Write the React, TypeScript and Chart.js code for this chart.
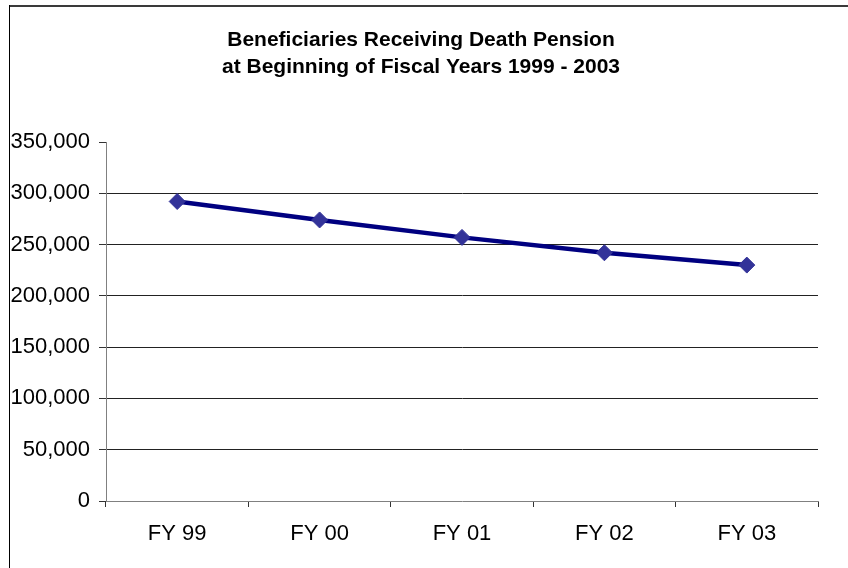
import React, { useEffect, useRef } from 'react';
import { Chart, registerables } from 'chart.js';

Chart.register(...registerables);

const categories = ['FY 99', 'FY 00', 'FY 01', 'FY 02', 'FY 03'];
const beneficiaries = [292000, 274000, 257000, 242000, 230000];
const yMin = 0;
const yMax = 350000;
const yStep = 50000;
const titleLines = [
  'Beneficiaries Receiving Death Pension',
  'at Beginning of Fiscal Years 1999 - 2003',
];

const FONT = '"Liberation Sans", Arial, sans-serif';
const SX = 1.0;

function drawText(
  ctx: CanvasRenderingContext2D,
  text: string,
  x: number,
  y: number,
  align: CanvasTextAlign,
  font: string
) {
  ctx.save();
  ctx.font = font;
  ctx.textAlign = align;
  ctx.textBaseline = 'middle';
  ctx.fillStyle = '#000';
  ctx.translate(x, y);
  ctx.scale(SX, 1);
  ctx.fillText(text, 0, 0);
  ctx.restore();
}

const textPlugin = {
  id: 'excelText',
  beforeDraw(chart: any) {
    const ctx = chart.ctx as CanvasRenderingContext2D;
    ctx.save();
    ctx.fillStyle = '#fff';
    ctx.fillRect(0, 0, chart.width, chart.height);
    ctx.fillStyle = '#3a3a3a';
    ctx.fillRect(9, 5, chart.width - 9, 2);
    ctx.fillStyle = '#000';
    ctx.fillRect(9, 5, 1, chart.height - 5);
    ctx.restore();
  },
  afterDraw(chart: any) {
    const ctx = chart.ctx as CanvasRenderingContext2D;
    const titleFont = `bold 21px ${FONT}`;
    drawText(ctx, titleLines[0], 421, 40, 'center', titleFont);
    drawText(ctx, titleLines[1], 421, 67, 'center', titleFont);

    const yScale = chart.scales.y;
    const tickFont = `22px ${FONT}`;
    yScale.ticks.forEach((t: any) => {
      const py = yScale.getPixelForValue(t.value);
      drawText(ctx, t.value.toLocaleString('en-US'), 90, py, 'right', tickFont);
    });
    const xScale = chart.scales.x;
    categories.forEach((c, i) => {
      const px = xScale.getPixelForValue(i);
      drawText(ctx, c, px, 534, 'center', tickFont);
    });
  },
};

export default function App() {
  const ref = useRef<HTMLCanvasElement | null>(null);

  useEffect(() => {
    if (!ref.current) return;
    const chart = new Chart(ref.current, {
      type: 'line',
      data: {
        labels: categories,
        datasets: [
          {
            data: beneficiaries,
            borderColor: '#000080',
            borderWidth: 4.5,
            pointStyle: 'rectRot',
            pointRadius: 8,
            pointBorderWidth: 1,
            pointBackgroundColor: '#333399',
            pointBorderColor: '#333399',
            tension: 0,
          },
        ],
      },
      options: {
        responsive: false,
        animation: false,
        devicePixelRatio: 1,
        layout: { padding: { top: 142, right: 30, left: 0, bottom: 0 } },
        plugins: {
          legend: { display: false },
          title: { display: false },
          tooltip: { enabled: false },
        },
        scales: {
          x: {
            type: 'category',
            offset: true,
            grid: {
              offset: true,
              drawOnChartArea: false,
              drawTicks: true,
              tickLength: 6,
              tickColor: '#333',
            },
            border: { color: '#808080', width: 1 },
            ticks: { display: false },
            afterFit: (s: any) => {
              s.height = 67;
            },
          },
          y: {
            min: yMin,
            max: yMax,
            ticks: { display: false, stepSize: yStep },
            grid: {
              color: (c: any) =>
                c.tick && (c.tick.value === yMax || c.tick.value === yMin)
                  ? 'rgba(0,0,0,0)'
                  : '#222',
              tickColor: '#333',
              tickLength: 7,
              drawTicks: true,
            },
            border: { color: '#808080', width: 1 },
            afterFit: (s: any) => {
              s.width = 106;
            },
          },
        },
      },
      plugins: [textPlugin],
    } as any);
    return () => chart.destroy();
  }, []);

  return (
    <div style={{ position: 'fixed', left: 0, top: 0, width: 848, height: 568 }}>
      <canvas ref={ref} width={848} height={568} style={{ width: 848, height: 568, display: 'block' }} />
    </div>
  );
}
